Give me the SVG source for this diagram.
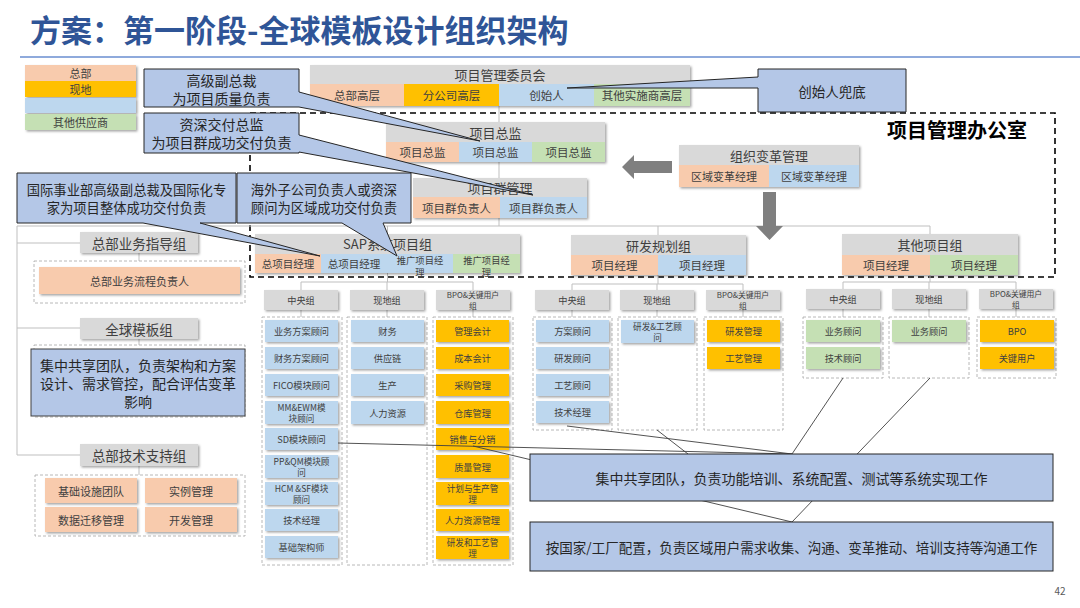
<svg xmlns="http://www.w3.org/2000/svg" width="1080" height="608" viewBox="0 0 1080 608">
<defs>
<filter id="sh" x="-10%" y="-20%" width="125%" height="150%"><feDropShadow dx="1.5" dy="1.5" stdDeviation="0.8" flood-color="#000" flood-opacity="0.35"/></filter>
</defs>
<style>
.t{font-family:'Noto Sans CJK SC','Microsoft YaHei',sans-serif;text-anchor:middle;dominant-baseline:central;fill:#404040}
.hd{fill:#D9D9D9}.pe{fill:#F8CBAD}.or{fill:#FFC000}.bl{fill:#BDD7EE}.gr{fill:#C5E0B4}
.s{filter:url(#sh)}
.co{fill:#B4C7E7;stroke:#262626;stroke-width:1}
.cn{fill:none;stroke:#BFBFBF;stroke-width:1}
.dc{fill:none;stroke:#A6A6A6;stroke-width:0.8;stroke-dasharray:3 2}
.pl{fill:none;stroke:#404040;stroke-width:0.9}
.f14{font-size:14px;fill:#262626}.f13{font-size:13px}.f11{font-size:11.5px}.f10{font-size:9.3px}.f9{font-size:9.2px}.f9b{font-size:8.6px}.f8{font-size:7.8px}
</style>
<rect width="1080" height="608" fill="#fff"/>
<g id="title">
<text x="30" y="42" style="font-family:'Noto Sans CJK SC','Microsoft YaHei',sans-serif;font-size:31px;font-weight:bold;fill:#2F5597">方案：第一阶段-全球模板设计组织架构</text>
<line x1="20" y1="57" x2="1080" y2="57" stroke="#8FAADC" stroke-width="2"/>
</g>
<g id="legend">
<g class="s"><rect x="25" y="65" width="111" height="16" class="pe"/><rect x="25" y="81" width="111" height="16" class="or"/><rect x="25" y="98" width="111" height="15" class="bl"/><rect x="25" y="114" width="111" height="16" class="gr"/></g>
<text x="80.5" y="73" class="t" style="font-size:11px">总部</text>
<text x="80.5" y="89" class="t" style="font-size:11px">现地</text>
<text x="80.5" y="122" class="t" style="font-size:11px">其他供应商</text>
</g>
<rect id="pmo-frame" x="250" y="113" width="805" height="164" fill="none" stroke="#000" stroke-width="1.6" stroke-dasharray="6 4"/>
<g id="connectors" class="cn">
<path d="M499,106 V226"/>
<path d="M17,226 H930"/>
<path d="M387.5,226 V234 M658,226 V235 M930,226 V234"/>
<path d="M17,226 V455 M17,243 H80 M17,328 H80 M17,455 H80"/>
<path d="M139,253 V261 M139,339 V345 M139,466 V475"/>
<path d="M387.5,273 V282 M301,282 H473 M301,282 V290 M387,282 V290 M473,282 V290 M301,310 V317 M387,310 V317 M473,310 V317"/>
<path d="M658,275 V284 M572,284 H743 M572,284 V290 M657,284 V290 M743,284 V290 M572,310 V317 M657,310 V317 M743,310 V317"/>
<path d="M930,275 V282 M843,282 H1016 M843,282 V289 M929,282 V289 M1016,282 V289 M843,309 V317 M929,309 V317 M1016,309 V317"/>
</g>
<g id="arrows" fill="#7F7F7F">
<polygon points="622,167 634,155 634,161 672,161 672,173 634,173 634,179"/>
<polygon points="763,192 776,192 776,226 783,226 769.5,240 756,226 763,226"/>
</g>
<g id="committee">
<g class="s"><rect x="310" y="65" width="380" height="19" class="hd"/><rect x="310" y="84" width="94" height="22" class="pe"/><rect x="404" y="84" width="95" height="22" class="or"/><rect x="499" y="84" width="95" height="22" class="bl"/><rect x="594" y="84" width="96" height="22" class="gr"/></g>
<text x="500" y="74.5" class="t f13">项目管理委员会</text>
<text x="357" y="95" class="t f11">总部高层</text>
<text x="451.5" y="95" class="t f11">分公司高层</text>
<text x="546.5" y="95" class="t f11">创始人</text>
<text x="642" y="95" class="t f11">其他实施商高层</text>
</g>
<g id="director">
<g class="s"><rect x="386" y="122" width="219" height="20" class="hd"/><rect x="386" y="142" width="73" height="20" class="pe"/><rect x="459" y="142" width="73" height="20" class="bl"/><rect x="532" y="142" width="73" height="20" class="gr"/></g>
<text x="495.5" y="132" class="t f13">项目总监</text>
<text x="422.5" y="152" class="t f11">项目总监</text>
<text x="495.5" y="152" class="t f11">项目总监</text>
<text x="568.5" y="152" class="t f11">项目总监</text>
</g>
<g id="program">
<g class="s"><rect x="413" y="178" width="174" height="19" class="hd"/><rect x="413" y="197" width="87" height="21" class="pe"/><rect x="500" y="197" width="87" height="21" class="bl"/></g>
<text x="500" y="187.5" class="t f13">项目群管理</text>
<text x="456.5" y="207.5" class="t f11">项目群负责人</text>
<text x="543.5" y="207.5" class="t f11">项目群负责人</text>
</g>
<g id="change">
<g class="s"><rect x="679" y="145" width="180" height="20" class="hd"/><rect x="679" y="165" width="90" height="22" class="pe"/><rect x="769" y="165" width="90" height="22" class="bl"/></g>
<text x="769" y="155" class="t f13">组织变革管理</text>
<text x="724" y="176" class="t" style="font-size:11px">区域变革经理</text>
<text x="814" y="176" class="t" style="font-size:11px">区域变革经理</text>
</g>
<text id="pmo-label" x="887" y="129" style="font-family:'Noto Sans CJK SC','Microsoft YaHei',sans-serif;font-size:20px;font-weight:bold;fill:#000;dominant-baseline:central">项目管理办公室</text>
<g id="sap">
<g class="s"><rect x="255" y="234" width="265" height="20" class="hd"/><rect x="255" y="254" width="66" height="19" class="pe"/><rect x="321" y="254" width="132" height="19" class="bl"/><rect x="453" y="254" width="67" height="19" class="gr"/></g>
<text x="387.5" y="243.5" class="t f13">SAP系统项目组</text>
<text x="288" y="263.5" class="t" style="font-size:10.5px">总项目经理</text>
<text x="354" y="263.5" class="t" style="font-size:10.5px">总项目经理</text>
<text x="420" y="259.5" class="t f10">推广项目经</text><text x="420" y="272" class="t f10">理</text>
<text x="486.5" y="259.5" class="t f10">推广项目经</text><text x="486.5" y="272" class="t f10">理</text>
</g>
<g id="rd">
<g class="s"><rect x="571" y="235" width="175" height="20" class="hd"/><rect x="571" y="255" width="87" height="20" class="pe"/><rect x="658" y="255" width="88" height="20" class="bl"/></g>
<text x="658.5" y="245" class="t f13">研发规划组</text>
<text x="614.5" y="265" class="t f11">项目经理</text>
<text x="702" y="265" class="t f11">项目经理</text>
</g>
<g id="other">
<g class="s"><rect x="842" y="234" width="176" height="21" class="hd"/><rect x="842" y="255" width="88" height="20" class="pe"/><rect x="930" y="255" width="88" height="20" class="gr"/></g>
<text x="930" y="244.5" class="t f13">其他项目组</text>
<text x="886" y="265" class="t f11">项目经理</text>
<text x="974" y="265" class="t f11">项目经理</text>
</g>
<g id="subheaders">
<g class="s"><rect x="264" y="290" width="74" height="20" class="hd"/><rect x="350" y="290" width="74" height="20" class="hd"/><rect x="436" y="290" width="74" height="20" class="hd"/><rect x="535" y="290" width="74" height="20" class="hd"/><rect x="620" y="290" width="74" height="20" class="hd"/><rect x="706" y="290" width="74" height="20" class="hd"/><rect x="806" y="289" width="74" height="20" class="hd"/><rect x="892" y="289" width="74" height="20" class="hd"/><rect x="979" y="289" width="74" height="20" class="hd"/></g>
<text x="301" y="300" class="t f9">中央组</text><text x="387" y="300" class="t f9">现地组</text>
<text x="473" y="294" class="t f8">BPO&amp;关键用户</text><text x="473" y="305.5" class="t f8">组</text>
<text x="572" y="300" class="t f9">中央组</text><text x="657" y="300" class="t f9">现地组</text>
<text x="743" y="294" class="t f8">BPO&amp;关键用户</text><text x="743" y="305.5" class="t f8">组</text>
<text x="843" y="299" class="t f9">中央组</text><text x="929" y="299" class="t f9">现地组</text>
<text x="1016" y="293" class="t f8">BPO&amp;关键用户</text><text x="1016" y="304.5" class="t f8">组</text>
</g>
<g id="containers" class="dc">
<rect x="262" y="317" width="80" height="248"/><rect x="347" y="317" width="80" height="248"/><rect x="433" y="317" width="80" height="248"/>
<rect x="533" y="317" width="79" height="113"/><rect x="618" y="317" width="79" height="113"/><rect x="704" y="317" width="79" height="113"/>
<rect x="803" y="317" width="80" height="61"/><rect x="889" y="317" width="80" height="61"/><rect x="977" y="317" width="79" height="61"/>
<rect x="34" y="261" width="211" height="42"/><rect x="34" y="345" width="211" height="72"/><rect x="35" y="475" width="210" height="61"/>
</g>
<g id="sap-central">
<g class="s bl"><rect x="265" y="320" width="73" height="22"/><rect x="265" y="347" width="73" height="22"/><rect x="265" y="374" width="73" height="22"/><rect x="265" y="401" width="73" height="23"/><rect x="265" y="428" width="73" height="22"/><rect x="265" y="455" width="73" height="23"/><rect x="265" y="482" width="73" height="23"/><rect x="265" y="509" width="73" height="22"/><rect x="265" y="536" width="73" height="22"/></g>
<text x="301.5" y="331" class="t f9">业务方案顾问</text>
<text x="301.5" y="358" class="t f9">财务方案顾问</text>
<text x="301.5" y="385" class="t f9">FICO模块顾问</text>
<text x="301.5" y="406.5" class="t f9b">MM&amp;EWM模</text><text x="301.5" y="417.5" class="t f9b">块顾问</text>
<text x="301.5" y="439" class="t f9">SD模块顾问</text>
<text x="301.5" y="460.5" class="t f9b">PP&amp;QM模块顾</text><text x="301.5" y="471.5" class="t f9b">问</text>
<text x="301.5" y="487.5" class="t f9b">HCM &amp;SF模块</text><text x="301.5" y="498.5" class="t f9b">顾问</text>
<text x="301.5" y="520" class="t f9">技术经理</text>
<text x="301.5" y="547" class="t f9">基础架构师</text>
</g>
<g id="sap-local">
<g class="s bl"><rect x="351" y="320" width="73" height="22"/><rect x="351" y="347" width="73" height="22"/><rect x="351" y="374" width="73" height="22"/><rect x="351" y="401" width="73" height="23"/></g>
<text x="387.5" y="331" class="t f9">财务</text>
<text x="387.5" y="358" class="t f9">供应链</text>
<text x="387.5" y="385" class="t f9">生产</text>
<text x="387.5" y="412.5" class="t f9">人力资源</text>
</g>
<g id="sap-bpo">
<g class="s or"><rect x="436" y="320" width="73" height="22"/><rect x="436" y="347" width="73" height="22"/><rect x="436" y="374" width="73" height="22"/><rect x="436" y="401" width="73" height="23"/><rect x="436" y="428" width="73" height="22"/><rect x="436" y="455" width="73" height="23"/><rect x="436" y="482" width="73" height="23"/><rect x="436" y="509" width="73" height="22"/><rect x="436" y="536" width="73" height="23"/></g>
<text x="472.5" y="331" class="t f9">管理会计</text>
<text x="472.5" y="358" class="t f9">成本会计</text>
<text x="472.5" y="385" class="t f9">采购管理</text>
<text x="472.5" y="412.5" class="t f9">仓库管理</text>
<text x="472.5" y="439" class="t f9">销售与分销</text>
<text x="472.5" y="466.5" class="t f9">质量管理</text>
<text x="472.5" y="487.5" class="t f9b">计划与生产管</text><text x="472.5" y="498.5" class="t f9b">理</text>
<text x="472.5" y="520" class="t f9">人力资源管理</text>
<text x="472.5" y="541.5" class="t f9b">研发和工艺管</text><text x="472.5" y="552.5" class="t f9b">理</text>
</g>
<g id="rd-central">
<g class="s bl"><rect x="536" y="320" width="73" height="22"/><rect x="536" y="347" width="73" height="22"/><rect x="536" y="374" width="73" height="22"/><rect x="536" y="401" width="73" height="22"/></g>
<text x="572.5" y="331" class="t f9">方案顾问</text>
<text x="572.5" y="358" class="t f9">研发顾问</text>
<text x="572.5" y="385" class="t f9">工艺顾问</text>
<text x="572.5" y="412" class="t f9">技术经理</text>
</g>
<g id="rd-local">
<rect x="621" y="320" width="73" height="23" class="s bl"/>
<text x="657.5" y="325.5" class="t f9b">研发&amp;工艺顾</text><text x="657.5" y="336.5" class="t f9b">问</text>
</g>
<g id="rd-bpo">
<g class="s or"><rect x="707" y="320" width="73" height="22"/><rect x="707" y="347" width="73" height="22"/></g>
<text x="743.5" y="331" class="t f9">研发管理</text>
<text x="743.5" y="358" class="t f9">工艺管理</text>
</g>
<g id="other-central">
<g class="s gr"><rect x="806" y="320" width="74" height="22"/><rect x="806" y="347" width="74" height="22"/></g>
<text x="843" y="331" class="t f9">业务顾问</text>
<text x="843" y="358" class="t f9">技术顾问</text>
</g>
<g id="other-local">
<rect x="892" y="320" width="74" height="22" class="s gr"/>
<text x="929" y="331" class="t f9">业务顾问</text>
</g>
<g id="other-bpo">
<g class="s or"><rect x="980" y="320" width="74" height="22"/><rect x="980" y="347" width="74" height="22"/></g>
<text x="1017" y="331" class="t f9">BPO</text>
<text x="1017" y="358" class="t f9">关键用户</text>
</g>
<g id="hq-guidance">
<g class="s"><rect x="80" y="232" width="118" height="21" class="hd"/><rect x="39" y="267" width="201" height="27" class="pe"/></g>
<text x="139" y="242.5" class="t" style="font-size:13.5px">总部业务指导组</text>
<text x="139.5" y="280.5" class="t" style="font-size:11px">总部业务流程负责人</text>
</g>
<g id="global-template">
<rect x="80" y="318" width="118" height="21" class="hd s"/>
<text x="139" y="328.5" class="t" style="font-size:13.5px">全球模板组</text>
<rect x="31" y="349" width="214" height="67" fill="#B4C7E7" stroke="#404040" stroke-width="1"/>
<text x="138" y="365" class="t f14">集中共享团队，负责架构和方案</text>
<text x="138" y="383" class="t f14">设计、需求管控，配合评估变革</text>
<text x="138" y="401" class="t f14">影响</text>
</g>
<g id="hq-tech">
<g class="s"><rect x="80" y="444" width="118" height="22" class="hd"/><rect x="45" y="478" width="92" height="25" class="pe"/><rect x="145" y="478" width="92" height="25" class="pe"/><rect x="45" y="507" width="92" height="25" class="pe"/><rect x="145" y="507" width="92" height="25" class="pe"/></g>
<text x="139" y="455" class="t" style="font-size:13.5px">总部技术支持组</text>
<text x="91" y="490.5" class="t" style="font-size:11px">基础设施团队</text>
<text x="191" y="490.5" class="t" style="font-size:11px">实例管理</text>
<text x="91" y="519.5" class="t" style="font-size:11px">数据迁移管理</text>
<text x="191" y="519.5" class="t" style="font-size:11px">开发管理</text>
</g>
<g id="pointers" class="pl">
<line x1="338" y1="443" x2="792" y2="454"/>
<line x1="567" y1="426" x2="792" y2="454"/>
<line x1="657" y1="430" x2="688" y2="454"/>
<line x1="843" y1="378" x2="792" y2="454"/>
<line x1="930" y1="378" x2="792" y2="522"/>
<line x1="473" y1="446" x2="792" y2="522"/>
</g>
<g id="note-central">
<rect x="530" y="454" width="523" height="47" class="co"/>
<text x="791.5" y="477.5" class="t f14">集中共享团队，负责功能培训、系统配置、测试等系统实现工作</text>
</g>
<g id="note-local">
<rect x="530" y="522" width="523" height="49" class="co"/>
<text x="791.5" y="546.5" class="t f14" style="font-size:13.5px">按国家/工厂配置，负责区域用户需求收集、沟通、变革推动、培训支持等沟通工作</text>
</g>
<g id="callout-vp">
<path d="M144,69 H299 V92 L480,141 L299,107 H144 Z" class="co"/>
<text x="221.5" y="79.5" class="t f14">高级副总裁</text>
<text x="221.5" y="97.5" class="t f14">为项目质量负责</text>
</g>
<g id="callout-delivery">
<path d="M144,113 H299 V135 L533,195 L299,152 V153 H144 Z" class="co"/>
<text x="221.5" y="124" class="t f14">资深交付总监</text>
<text x="221.5" y="142" class="t f14">为项目群成功交付负责</text>
</g>
<g id="callout-intl">
<path d="M17,173 H236 V223 H200 L320,256 L143,223 H17 Z" class="co"/>
<text x="126.5" y="189" class="t f14" style="font-size:13.3px">国际事业部高级副总裁及国际化专</text>
<text x="126.5" y="207.5" class="t f14" style="font-size:13.3px">家为项目整体成功交付负责</text>
</g>
<g id="callout-overseas">
<path d="M237,173 H411 V223 H383 L397,256 L342,223 H237 Z" class="co"/>
<text x="324" y="189" class="t f14" style="font-size:13.3px">海外子公司负责人或资深</text>
<text x="324" y="207.5" class="t f14" style="font-size:13.3px">顾问为区域成功交付负责</text>
</g>
<g id="callout-founder">
<path d="M758,69 H906 V112 H758 V88 L567,88 L758,77 Z" class="co"/>
<text x="832" y="91" class="t f14" style="font-size:13.5px">创始人兜底</text>
</g>
<text id="page" x="1060" y="590" class="t" style="font-size:10px;fill:#595959">42</text>
</svg>
